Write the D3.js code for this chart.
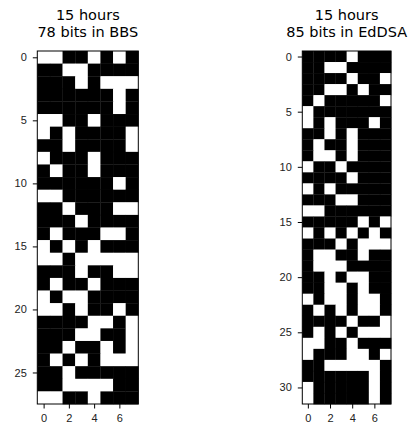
<!DOCTYPE html>
<html>
<head>
<meta charset="utf-8">
<script src="https://cdn.jsdelivr.net/npm/d3@7"></script>
<style>
  body { margin: 0; background: #fff; }
  svg { display: block; font-family: "DejaVu Sans", sans-serif; }
  .title { font-size: 14.5px; fill: #000; }
  .tick text { font-size: 11px; fill: #222; }
</style>
</head>
<body>
<svg id="chart" width="413" height="427"></svg>
<script>
// Bit grids, one string per row (1 = white, 0 = black)
const bbsRows = [
  "11001010", "00110000", "00010111", "00000010", "00000010",
  "11001000", "10100001", "00100001", "10001000", "01001000",
  "00000010", "11000000", "00100011", "00010000", "01000110",
  "10101000", "11011111", "00010011", "01001000", "10110000",
  "11010010", "00001101", "00011001", "00100101", "01010111",
  "00100000", "00111100", "11001000"
];
const eddsaRows = [
  "00001000", "00110000", "00001001", "00110100", "01000001",
  "10000000", "10100010", "00101000", "01001000", "01101000",
  "10010000", "00001000", "10100000", "00011000", "11000000",
  "00000101", "10101010", "00010111", "01100100", "01110000",
  "00101100", "00110100", "10110110", "01010110", "00001001",
  "01010111", "11001000", "10001101", "00111110", "00000010",
  "10000010", "10000010"
];
const titles = [
  ["15 hours", "78 bits in BBS"],
  ["15 hours", "85 bits in EdDSA"]
];
const xTicks = [0, 2, 4, 6];
const bbsYTicks = [0, 5, 10, 15, 20, 25];
const eddsaYTicks = [0, 5, 10, 15, 20, 25, 30];

const svg = d3.select("#chart");

function drawPanel(rows, yTicks, title, left, right) {
  const top = 51, bottom = 404;
  const nCols = rows[0].length;
  const x = d3.scaleLinear().domain([-0.5, nCols - 0.5]).range([left, right]);
  const y = d3.scaleLinear().domain([-0.5, rows.length - 0.5]).range([top, bottom]);

  const cells = [];
  rows.forEach((r, i) => r.split("").forEach((b, j) => cells.push({ row: i, col: j, v: +b })));

  const g = svg.append("g");
  g.selectAll("rect.cell")
    .data(cells)
    .enter().append("rect")
    .attr("class", "cell")
    .attr("x", d => x(d.col - 0.5))
    .attr("y", d => y(d.row - 0.5))
    .attr("width", d => x(d.col + 0.5) - x(d.col - 0.5) + 0.3)
    .attr("height", d => y(d.row + 0.5) - y(d.row - 0.5) + 0.3)
    .attr("fill", d => d.v ? "#fff" : "#000");

  // frame
  g.append("rect")
    .attr("x", left).attr("y", top)
    .attr("width", right - left).attr("height", bottom - top)
    .attr("fill", "none").attr("stroke", "#000").attr("stroke-width", 1);

  const xAxis = g.append("g")
    .attr("transform", `translate(0,${bottom})`)
    .call(d3.axisBottom(x).tickValues(xTicks).tickSize(4.5).tickPadding(6));
  const yAxis = g.append("g")
    .attr("transform", `translate(${left},0)`)
    .call(d3.axisLeft(y).tickValues(yTicks).tickSize(4.5).tickPadding(6));
  [xAxis, yAxis].forEach(a => {
    a.select(".domain").remove();
    a.selectAll(".tick line").attr("stroke", "#000");
    a.selectAll(".tick text").attr("font-family", null).attr("font-size", null);
  });

  const cx = (left + right) / 2;
  g.append("text").attr("class", "title")
    .attr("x", cx).attr("y", 20).attr("text-anchor", "middle").text(title[0]);
  g.append("text").attr("class", "title")
    .attr("x", cx).attr("y", 37).attr("text-anchor", "middle").text(title[1]);
}

drawPanel(bbsRows, bbsYTicks, titles[0], 37.3, 138.3);
drawPanel(eddsaRows, eddsaYTicks, titles[1], 302.3, 391);
</script>
</body>
</html>
